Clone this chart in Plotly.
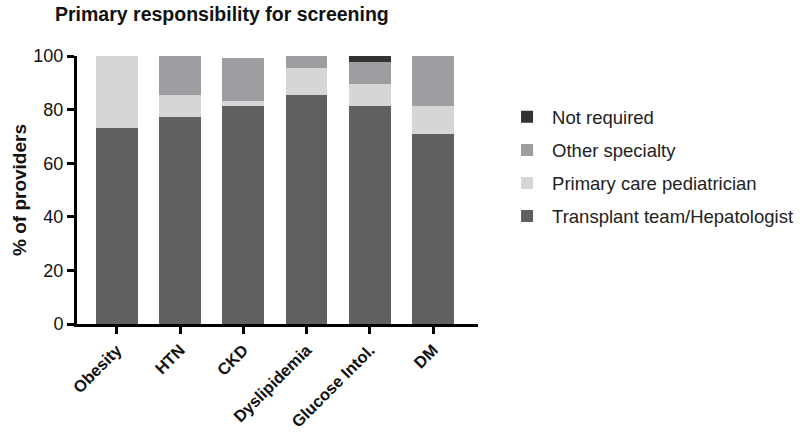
import plotly.graph_objects as go

categories = ["Obesity", "HTN", "CKD", "Dyslipidemia", "Glucose Intol.", "DM"]
transplant = [73.3, 77.3, 81.3, 85.5, 81.3, 71.0]
primary_care = [26.7, 8.2, 2.0, 10.1, 8.1, 10.4]
other_specialty = [0.0, 14.5, 16.0, 4.4, 8.4, 18.6]
not_required = [0.0, 0.0, 0.0, 0.0, 2.2, 0.0]

series = [
    ("Transplant team/Hepatologist", transplant, "#606060"),
    ("Primary care pediatrician", primary_care, "#d6d6d6"),
    ("Other specialty", other_specialty, "#9e9ea2"),
    ("Not required", not_required, "#333333"),
]

fig = go.Figure()
for i, (name, vals, col) in enumerate(series):
    fig.add_trace(go.Bar(
        x=categories, y=vals, name=name, legendgroup=f"g{i}", legendrank=1000 - i,
        marker=dict(color=col, line=dict(width=0)), width=0.66,
    ))

font_family = "Liberation Sans, Arial, Helvetica, sans-serif"
fig.update_layout(
    barmode="stack",
    width=800, height=432,
    margin=dict(l=77, r=322, t=56, b=108, autoexpand=False),
    plot_bgcolor="white", paper_bgcolor="white",
    font=dict(family=font_family, color="#000"),
    title=dict(text="<b>Primary responsibility for screening</b>", x=55/800, xanchor="left",
               xref="container", y=1 - 14/432, yanchor="middle", yref="container",
               font=dict(size=19.5, color="#111")),
    legend=dict(x=1.06, xanchor="left", y=0.842, yanchor="top", traceorder="grouped",
                font=dict(size=18.5, color="#222"), tracegroupgap=6, itemwidth=40),
    xaxis=dict(range=[-0.63, 5.71], showline=True, linecolor="#000", linewidth=3,
               ticks="outside", ticklen=7, tickwidth=3, tickcolor="#000",
               tickangle=-45, tickfont=dict(size=16.5, color="#111"), automargin=False,
               tickprefix="<b>", ticksuffix="</b>", showgrid=False, zeroline=False),
    yaxis=dict(range=[0, 100], showline=True, linecolor="#000", linewidth=3,
               ticks="outside", ticklen=7, tickwidth=3, tickcolor="#000", automargin=False,
               tickvals=[0, 20, 40, 60, 80, 100], tickfont=dict(size=18, color="#111"),
               tickprefix="<b>", ticksuffix="</b>", showgrid=False, zeroline=False,
               title=dict(text="<b>% of providers</b>", font=dict(size=19, color="#111"), standoff=2)),
)

fig.write_html("out.html", config={"displayModeBar": False},
               post_script="document.body.style.margin='0';document.body.style.padding='0';")
